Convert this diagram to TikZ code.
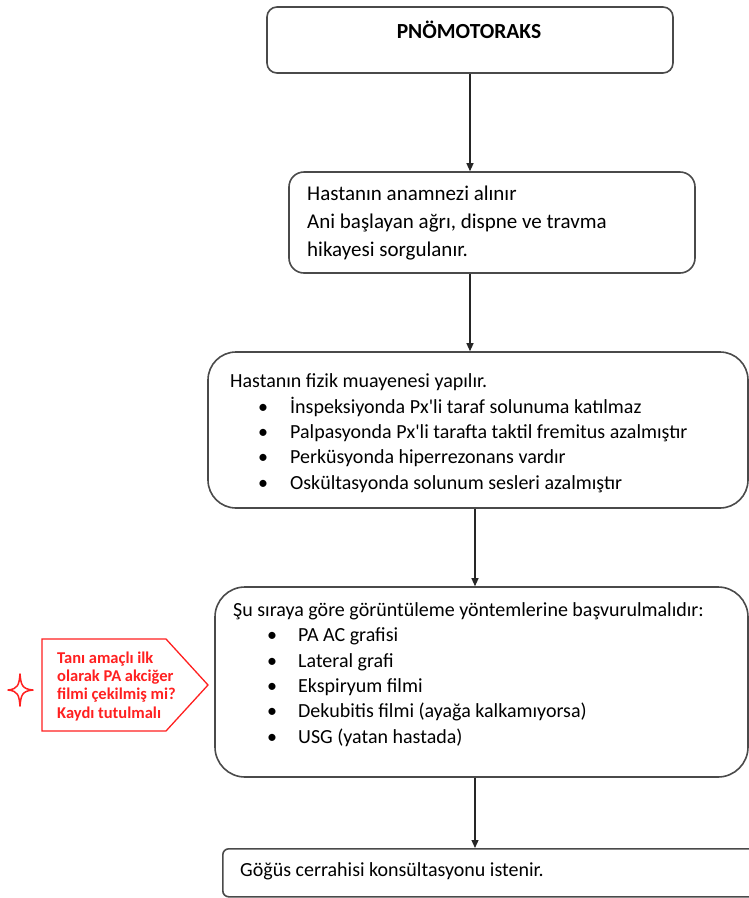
\documentclass[tikz,border=0pt]{standalone}
\usepackage{fontspec}
\setmainfont{Carlito}
\usetikzlibrary{arrows.meta}
\definecolor{boxline}{HTML}{4A4A4A}
\definecolor{notered}{HTML}{FF2020}
\newcommand{\bitem}[2]{\hspace*{#1}\makebox[0pt]{\textbullet}\hspace*{#2}}
% multi-line text nodes are placed by the baseline of their last line
\tikzset{
  box/.style={draw=boxline, line width=1.6pt, fill=white, inner sep=0pt},
  txt/.style={inner sep=0pt, align=left, anchor=base west,
    font=\fontsize{20}{25.3}\selectfont},
  arr/.style={draw=black!85, line width=1.2pt, -{Triangle[length=8pt,width=7pt]}},
}
\begin{document}
\begin{tikzpicture}[x=1pt,y=-1pt]
\useasboundingbox (0,0) rectangle (749,898);
\fill[white] (0,0) rectangle (749,898);

% boxes of the flow
\node[box, rounded corners=10pt, minimum width=406pt, minimum height=66pt] (b1) at (470,40) {};
\node[box, rounded corners=15pt, minimum width=406pt, minimum height=101pt] (b2) at (492,222.5) {};
\node[box, rounded corners=28pt, minimum width=540pt, minimum height=156pt] (b3) at (478,430) {};
\node[box, rounded corners=30pt, minimum width=533pt, minimum height=190pt] (b4) at (481.5,682) {};
\node[box, rounded corners=6pt, minimum width=560pt, minimum height=48pt, anchor=north west] (b5) at (222,848) {};

% texts
\node[anchor=base, inner sep=0pt, font=\fontsize{21.5}{24}\selectfont\bfseries] (t1) at (469,38) {PNÖMOTORAKS};
\node[txt, font=\fontsize{21}{28}\selectfont] (t2) at (307,256) {Hastanın anamnezi alınır\\Ani başlayan ağrı, dispne ve travma\\hikayesi sorgulanır.};
\node[txt] (t3) at (230,489) {Hastanın fizik muayenesi yapılır.\\
\bitem{33pt}{27pt}İnspeksiyonda Px\textquotesingle li taraf solunuma katılmaz\\
\bitem{33pt}{27pt}Palpasyonda Px\textquotesingle li tarafta taktil fremitus azalmıştır\\
\bitem{33pt}{27pt}Perküsyonda hiperrezonans vardır\\
\bitem{33pt}{27pt}Oskültasyonda solunum sesleri azalmıştır};
\node[txt] (t4) at (233,743) {Şu sıraya göre görüntüleme yöntemlerine başvurulmalıdır:\\
\bitem{39pt}{26pt}PA AC grafisi\\
\bitem{39pt}{26pt}Lateral grafi\\
\bitem{39pt}{26pt}Ekspiryum filmi\\
\bitem{39pt}{26pt}Dekubitis filmi (ayağa kalkamıyorsa)\\
\bitem{39pt}{26pt}USG (yatan hastada)};
\node[txt] (t5) at (240,876) {Göğüs cerrahisi konsültasyonu istenir.};

% connectors
\coordinate (cx) at (475,0);
\draw[arr] (b1.south) -- (b1.south |- b2.north);
\draw[arr] (b2.south -| b1.south) -- (b3.north -| b1.south);
\draw[arr] (b3.south -| cx) -- (b4.north -| cx);
\draw[arr] (b4.south -| cx) -- (b5.north -| cx);

% red note with its star mark
\draw[notered, line width=1.3pt, line join=miter] (42,639) -- (166,639) -- (208,685) -- (166,731) -- (42,731) -- cycle;
\node[txt, text=notered, font=\fontsize{16.5}{18.3}\selectfont\bfseries] (note) at (57,718)
  {Tanı amaçlı ilk\\olarak PA akciğer\\filmi çekilmiş mi?\\Kaydı tutulmalı};
\draw[notered, line width=1.5pt, line join=round]
  (20,674) .. controls (21,685) and (22,689) .. (33,690)
  .. controls (22,691) and (21,695) .. (20,706)
  .. controls (19,695) and (18,691) .. (8,690)
  .. controls (18,689) and (19,685) .. (20,674) -- cycle;
\end{tikzpicture}
\end{document}
